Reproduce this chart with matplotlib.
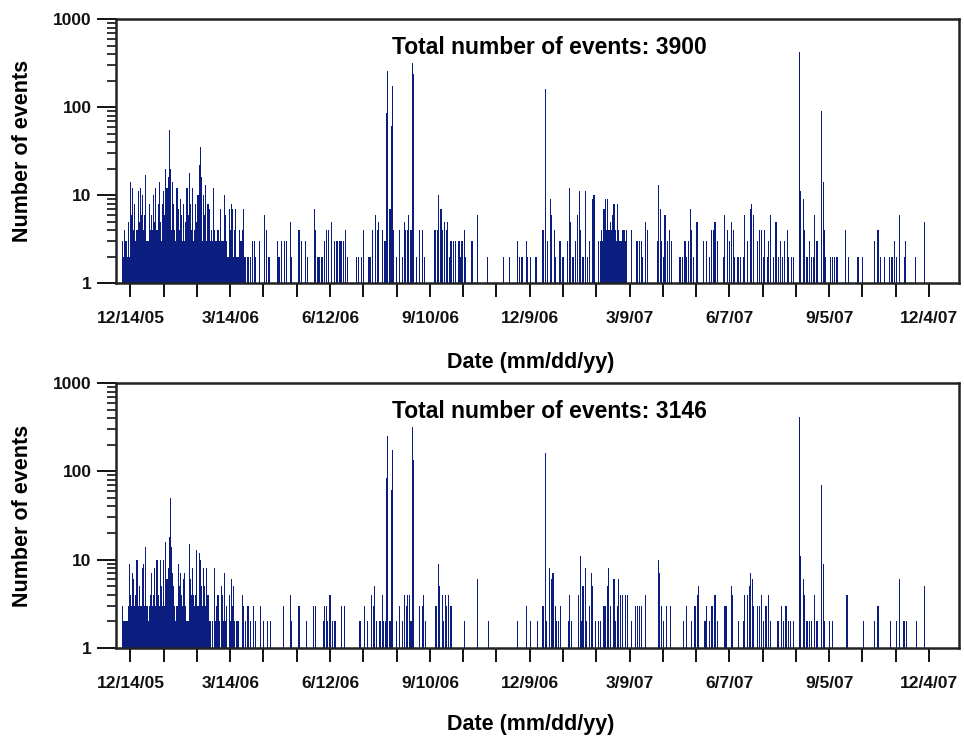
import datetime as dt
import numpy as np
import matplotlib
matplotlib.use('Agg')
import matplotlib.pyplot as plt
import matplotlib.dates as mdates
from matplotlib.ticker import LogLocator, NullFormatter, FixedLocator

plt.rcParams['font.family'] = ['Liberation Sans', 'DejaVu Sans']
plt.rcParams['font.weight'] = 'bold'

start = dt.date(2005, 12, 1)   # day 0 of the record

# daily counts, first panel: dense burst Dec 05 - Mar 06 (days 6..117), then sparse days
top_burst = [3, 2, 4, 3, 2, 5, 2, 14, 6, 12, 4, 8, 3, 4, 11, 5, 12, 6, 10, 4, 6, 17, 3, 3,
             8, 4, 6, 4, 10, 5, 12, 4, 8, 14, 5, 3, 8, 11, 6, 20, 12, 16, 55, 20, 4, 14, 8, 4,
             3, 12, 7, 4, 9, 6, 3, 8, 3, 5, 12, 6, 18, 8, 4, 12, 3, 4, 8, 5, 10, 22, 35, 16,
             3, 10, 6, 13, 3, 8, 7, 3, 4, 3, 12, 4, 3, 3, 4, 3, 7, 3, 3, 3, 10, 6, 3, 2,
             7, 4, 8, 7, 2, 4, 7, 2, 2, 4, 3, 3, 4, 7, 2, 2]
top_days = [119, 121, 123, 125, 126, 129, 134, 136, 138, 146, 147, 149, 152, 154, 157, 158,
            165, 167, 171, 173, 179, 180, 182, 183, 185, 186, 188, 190, 192, 194, 197, 199,
            200, 202, 203, 205, 207, 209, 217, 219, 221, 223, 228, 229, 231, 234, 236, 237,
            240, 242, 243, 244, 245, 247, 248, 249, 250, 253, 256, 258, 260, 261, 263, 264,
            266, 267, 268, 271, 274, 276, 278, 287, 288, 290, 291, 293, 294, 296, 298, 299,
            301, 302, 304, 306, 309, 310, 311, 312, 314, 315, 321, 326, 335, 349, 355, 362,
            364, 366, 370, 371, 374, 378, 379, 385, 387, 389, 392, 393, 395, 396, 400, 401,
            403, 407, 409, 410, 412, 414, 416, 418, 419, 421, 423, 425, 427, 430, 431, 435,
            437, 438, 439, 440, 441, 442, 443, 444, 445, 446, 447, 448, 449, 450, 451, 452,
            453, 454, 455, 456, 457, 458, 459, 460, 465, 469, 470, 472, 474, 475, 477, 479,
            488, 489, 491, 492, 494, 495, 497, 499, 501, 508, 509, 511, 513, 514, 516, 518,
            519, 521, 523, 524, 530, 532, 535, 537, 539, 540, 542, 548, 549, 551, 553, 555,
            557, 558, 560, 561, 563, 566, 567, 569, 572, 573, 575, 578, 580, 582, 584, 585,
            587, 588, 590, 593, 595, 597, 599, 601, 603, 605, 606, 609, 611, 616, 617, 620,
            621, 623, 625, 627, 629, 630, 632, 636, 638, 639, 640, 644, 646, 648, 650, 658,
            660, 669, 673, 684, 687, 689, 693, 697, 699, 700, 702, 704, 706, 711, 712, 721,
            729]
top_counts = [2, 2, 3, 3, 2, 3, 6, 4, 2, 3, 2, 3, 3, 3, 5, 2,
              4, 3, 3, 2, 7, 4, 2, 2, 2, 2, 3, 4, 4, 5, 3, 3,
              3, 3, 3, 3, 4, 2, 2, 2, 2, 4, 2, 2, 4, 6, 4, 5,
              4, 3, 3, 86, 260, 7, 61, 174, 4, 2, 4, 2, 5, 4, 4, 6,
              4, 320, 240, 2, 4, 4, 2, 4, 4, 4, 10, 7, 4, 5, 4, 5,
              2, 3, 3, 3, 3, 3, 2, 3, 4, 2, 3, 6, 2, 2, 2, 3,
              2, 2, 3, 2, 2, 2, 2, 4, 160, 3, 9, 6, 4, 2, 3, 3,
              2, 3, 12, 5, 2, 3, 6, 11, 4, 2, 11, 2, 3, 9, 10, 3,
              3, 4, 3, 7, 9, 4, 9, 4, 4, 5, 4, 6, 8, 4, 3, 8,
              4, 3, 3, 3, 4, 4, 3, 4, 4, 3, 3, 3, 3, 2, 5, 4,
              3, 13, 7, 3, 2, 6, 3, 4, 3, 2, 2, 2, 3, 2, 3, 7,
              4, 2, 5, 5, 3, 3, 2, 4, 4, 5, 3, 2, 6, 4, 3, 5,
              4, 2, 2, 2, 2, 2, 6, 3, 7, 8, 6, 3, 4, 4, 2, 4,
              2, 3, 6, 2, 5, 2, 3, 2, 3, 4, 2, 2, 2, 420, 11, 9,
              4, 2, 3, 2, 2, 6, 3, 90, 14, 4, 2, 2, 2, 2, 2, 4,
              2, 2, 2, 3, 4, 2, 2, 2, 2, 2, 3, 2, 6, 2, 3, 2,
              5]

# second panel
bot_burst = [3, 2, 2, 2, 2, 3, 9, 4, 3, 7, 6, 3, 4, 10, 3, 5, 3, 3, 8, 9, 3, 14, 3, 2,
             3, 4, 7, 3, 4, 8, 3, 10, 4, 3, 10, 5, 3, 10, 3, 16, 6, 8, 18, 50, 14, 7, 5, 3,
             2, 3, 9, 5, 7, 4, 3, 6, 7, 3, 2, 2, 15, 6, 4, 8, 4, 3, 4, 13, 3, 12, 10, 5,
             3, 8, 5, 3, 8, 4, 2, 2, 0, 2, 0, 8, 2, 3, 4, 2, 0, 5, 4, 2, 7, 2, 3, 0,
             4, 2, 6, 3, 5, 2, 0, 2, 2, 0, 0, 0, 4, 3, 0, 2]
bot_days = [119, 121, 124, 126, 130, 133, 137, 139, 151, 157, 158, 165, 172, 178, 180, 187,
            188, 190, 191, 193, 195, 197, 198, 203, 206, 220, 224, 227, 230, 232, 233, 235,
            238, 240, 241, 243, 244, 245, 247, 248, 249, 253, 256, 258, 260, 262, 263, 265,
            266, 267, 268, 274, 276, 277, 279, 288, 289, 291, 292, 294, 295, 297, 298, 300,
            302, 314, 326, 336, 362, 370, 374, 380, 385, 387, 388, 391, 393, 394, 396, 397,
            399, 401, 408, 409, 411, 417, 419, 420, 421, 423, 424, 427, 429, 430, 432, 435,
            437, 440, 441, 443, 444, 446, 449, 450, 452, 453, 455, 457, 459, 461, 465, 468,
            470, 472, 474, 477, 489, 490, 492, 494, 496, 500, 512, 514, 519, 522, 524, 525,
            531, 532, 535, 537, 538, 540, 542, 549, 550, 555, 556, 561, 566, 567, 569, 571,
            572, 574, 575, 578, 580, 582, 584, 586, 588, 590, 596, 597, 600, 602, 604, 606,
            608, 611, 616, 617, 620, 621, 623, 625, 627, 630, 632, 636, 638, 639, 643, 646,
            659, 674, 684, 687, 698, 704, 706, 710, 711, 713, 722, 729]
bot_counts = [3, 2, 3, 2, 3, 2, 2, 2, 3, 4, 2, 3, 2, 3, 3, 2,
              3, 3, 2, 4, 2, 2, 2, 3, 3, 2, 3, 2, 4, 3, 5, 2,
              2, 4, 2, 2, 85, 250, 2, 62, 175, 2, 3, 2, 4, 3, 4, 4,
              2, 320, 133, 3, 3, 4, 2, 3, 3, 9, 5, 4, 2, 4, 3, 4,
              3, 2, 6, 2, 2, 3, 2, 2, 3, 160, 2, 8, 6, 7, 3, 2,
              2, 3, 2, 4, 2, 4, 11, 2, 5, 8, 2, 3, 7, 5, 2, 2,
              2, 3, 3, 5, 8, 3, 6, 2, 3, 6, 4, 4, 4, 4, 2, 3,
              3, 3, 3, 4, 10, 7, 3, 2, 3, 3, 2, 3, 2, 3, 4, 5,
              2, 3, 2, 3, 3, 4, 2, 3, 3, 5, 4, 2, 2, 4, 4, 5,
              7, 6, 3, 3, 3, 4, 2, 3, 4, 2, 2, 2, 3, 2, 3, 2,
              2, 2, 415, 11, 6, 4, 2, 2, 2, 4, 2, 70, 9, 2, 2, 2,
              4, 2, 2, 3, 2, 2, 6, 2, 2, 2, 2, 5]

totals = ['Total number of events: 3900', 'Total number of events: 3146']
tick_labels = ['12/14/05', '3/14/06', '6/12/06', '9/10/06', '12/9/06',
               '3/9/07', '6/7/07', '9/5/07', '12/4/07']

navy = '#0b1d7e'


def day_dates(days):
    return [mdates.date2num(start + dt.timedelta(days=int(d))) for d in days]


def draw(ax, burst, days, counts, total, xlab_y):
    keep = [i for i, c in enumerate(burst) if c > 0]
    x = day_dates([6 + i for i in keep] + list(days))
    y = np.array([burst[i] for i in keep] + list(counts), dtype=float)
    # bars rise from the log-axis floor at 1
    ax.bar(x, y - 1, width=1.0, bottom=1, color=navy, linewidth=0, align='center')
    ax.set_yscale('log')
    ax.set_ylim(1, 1000)
    ax.set_xlim(mdates.date2num(start), mdates.date2num(dt.date(2007, 12, 31)))

    first = dt.date(2005, 12, 14)
    major = [mdates.date2num(first + dt.timedelta(days=30 * k)) for k in range(25)]
    ax.xaxis.set_major_locator(FixedLocator(major))
    ax.set_xticklabels([tick_labels[k // 3] if k % 3 == 0 else '' for k in range(25)])
    ax.tick_params(axis='x', direction='out', length=10, width=1.4, pad=10,
                   labelsize=12.5, colors='#111111')
    ax.set_yticks([1, 10, 100, 1000])
    ax.set_yticklabels(['1', '10', '100', '1000'])
    ax.yaxis.set_minor_locator(LogLocator(base=10, subs=np.arange(2, 10), numticks=20))
    ax.yaxis.set_minor_formatter(NullFormatter())
    ax.tick_params(axis='y', which='major', direction='out', length=13.5, width=1.4,
                   pad=4, labelsize=12.5, colors='#111111')
    ax.tick_params(axis='y', which='minor', direction='out', length=6.5, width=1.2,
                   colors='#111111')
    for s in ax.spines.values():
        s.set_linewidth(1.8)
        s.set_color('#222222')
    ax.set_ylabel('Number of events', fontsize=15.5, fontweight='bold')
    ax.yaxis.set_label_coords(-0.098, 0.5)
    ax.set_xlabel('Date (mm/dd/yy)', fontsize=15.5, fontweight='bold')
    ax.xaxis.set_label_coords(0.492, xlab_y)
    ax.text(0.514, 0.893, total, transform=ax.transAxes, ha='center', va='center',
            fontsize=16.5, fontweight='bold')


fig = plt.figure(figsize=(9.64, 7.38), dpi=100)
ax1 = fig.add_axes([0.1203, 0.6165, 0.8745, 0.3577])
ax2 = fig.add_axes([0.1203, 0.1220, 0.8745, 0.3591])
draw(ax1, top_burst, top_days, top_counts, totals[0], -0.262)
draw(ax2, bot_burst, bot_days, bot_counts, totals[1], -0.248)
fig.savefig('out.png', dpi=100)
